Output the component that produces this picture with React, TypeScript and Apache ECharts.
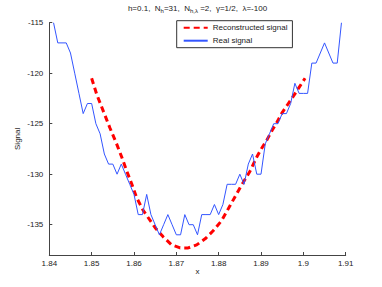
import React, { useEffect, useRef } from "react";
import * as echarts from "echarts";

const realX = [
  1.841, 1.842, 1.843, 1.844, 1.845, 1.846, 1.847, 1.848, 1.849, 1.85,
  1.851, 1.852, 1.853, 1.854, 1.855, 1.856, 1.857, 1.858, 1.859, 1.86,
  1.861, 1.862, 1.863, 1.864, 1.865, 1.866, 1.867, 1.868, 1.869, 1.87,
  1.871, 1.872, 1.873, 1.874, 1.875, 1.876, 1.877, 1.878, 1.879, 1.88,
  1.881, 1.882, 1.883, 1.884, 1.885, 1.886, 1.887, 1.888, 1.889, 1.89,
  1.891, 1.892, 1.893, 1.894, 1.895, 1.896, 1.897, 1.898, 1.899, 1.9,
  1.901, 1.902, 1.903, 1.904, 1.905, 1.906, 1.907, 1.908, 1.909,
];
const realY = [
  -115, -117, -117, -117, -118, -120, -122, -124, -123, -123,
  -125, -126, -128, -129, -129, -130, -129, -130, -131, -132,
  -134, -134, -132, -134, -135, -136, -135, -134, -135, -136,
  -136, -134, -135, -135, -136, -134, -134, -134, -133, -134,
  -133, -131, -131, -131, -130, -131, -129, -128, -130, -130,
  -127, -126, -125, -125, -124, -124, -123, -121, -122, -122,
  -122, -119, -119, -118, -117, -118, -119, -119, -115,
];

const reconX = [
  1.85, 1.8512, 1.8528, 1.8543, 1.8559, 1.8571, 1.8583, 1.8595, 1.8606, 1.8622,
  1.865, 1.8669, 1.8689, 1.8709, 1.8728, 1.8748, 1.8768, 1.8787, 1.8807, 1.8827,
  1.8851, 1.8874, 1.889, 1.8902, 1.8914, 1.8927, 1.8937, 1.895, 1.8963, 1.8976,
  1.899, 1.9004,
];
const reconY = [
  -120.5, -122.1, -123.8, -125.4, -127.0, -128.3, -129.7, -131.0, -132.3, -133.6,
  -135.3, -136.2, -137.0, -137.3, -137.3, -137.0, -136.4, -135.6, -134.6, -133.1,
  -131.3, -129.7, -128.3, -127.4, -126.6, -125.6, -124.9, -123.9, -123.1, -122.3,
  -121.4, -120.5,
];

const xTicks = { min: 1.84, max: 1.91, interval: 0.01 };
const yRange = { min: -138, max: -115 };
const seriesNames = ["Reconstructed signal", "Real signal"];

const FONT = "'Liberation Sans', Arial, Helvetica, sans-serif";

export default function App() {
  const ref = useRef<HTMLDivElement>(null);
  useEffect(() => {
    if (!ref.current) return;
    const chart = echarts.init(ref.current, null, { renderer: "svg" });
    const gridLeft = 49.3;
    const gridTop = 22.7;
    const gridW = 296.4;
    const gridH = 232.3;
    chart.setOption({
      animation: false,
      backgroundColor: "#ffffff",
      textStyle: { fontFamily: FONT },
      grid: { left: gridLeft, top: gridTop, width: gridW, height: gridH, containLabel: false },
      graphic: [
        {
          type: "text",
          x: gridLeft + gridW / 2,
          y: 8,
          style: {
            text:
              "h=0.1,  N{s|h}=31,  N{s|h,λ} =2,  γ=1/2,  λ=-100",
            rich: {
              s: { fontSize: 6, padding: [5, 0, 0, 0], fontFamily: FONT, fill: "#222" },
            },
            align: "center",
            verticalAlign: "middle",
            fontSize: 8,
            fontFamily: FONT,
            fill: "#222",
          },
        },
      ],
      legend: {
        orient: "vertical",
        left: 176.7,
        top: 20.7,
        padding: [3, 5, 3, 6],
        itemGap: 5,
        itemWidth: 24,
        itemHeight: 9,
        borderColor: "#333",
        borderWidth: 1,
        borderRadius: 0,
        backgroundColor: "#fff",
        itemStyle: { opacity: 0 },
        textStyle: { fontSize: 8, color: "#222", fontFamily: FONT },
        data: seriesNames,
      },
      xAxis: {
        type: "value",
        min: xTicks.min,
        max: xTicks.max,
        interval: xTicks.interval,
        name: "x",
        nameLocation: "middle",
        nameGap: 12,
        nameMoveOverlap: false,
        nameTextStyle: { fontSize: 8, color: "#222", fontFamily: FONT },
        axisLine: { onZero: false, lineStyle: { color: "#444", width: 1 } },
        axisTick: { inside: true, length: 3, lineStyle: { color: "#444" } },
        axisLabel: {
          fontSize: 8,
          color: "#222",
          margin: 4,
          fontFamily: FONT,
          formatter: (v: number) => String(+v.toFixed(2)),
        },
        splitLine: { show: false },
      },
      yAxis: {
        type: "value",
        min: yRange.min,
        max: yRange.max,
        name: "Signal",
        nameLocation: "middle",
        nameGap: 28,
        nameMoveOverlap: false,
        nameRotate: 90,
        nameTextStyle: { fontSize: 8, color: "#222", fontFamily: FONT },
        axisLine: { show: true, onZero: false, lineStyle: { color: "#444", width: 1 } },
        axisTick: { show: true, inside: true, length: 3, lineStyle: { color: "#444" } },
        axisLabel: {
          fontSize: 8,
          color: "#222",
          margin: 6,
          fontFamily: FONT,
          formatter: (v: number) => (Math.round(v) % 5 === 0 ? String(Math.round(v)) : ""),
        },
        splitLine: { show: false },
      },
      series: [
        {
          name: seriesNames[0],
          type: "line",
          data: reconX.map((x, i) => [x, reconY[i]]),
          showSymbol: false,
          symbol: "none",
          lineStyle: { color: "#ff0000", width: 3, type: [6, 4] },
          itemStyle: { color: "#ff0000" },
          z: 2,
        },
        {
          name: seriesNames[1],
          type: "line",
          data: realX.map((x, i) => [x, realY[i]]),
          showSymbol: false,
          symbol: "none",
          lineStyle: { color: "#3355ff", width: 1 },
          itemStyle: { color: "#3355ff" },
          z: 3,
        },
      ],
    });
    return () => chart.dispose();
  }, []);
  return (
    <div
      ref={ref}
      style={{ position: "fixed", left: 0, top: 0, width: 382, height: 287, background: "#fff" }}
    />
  );
}
